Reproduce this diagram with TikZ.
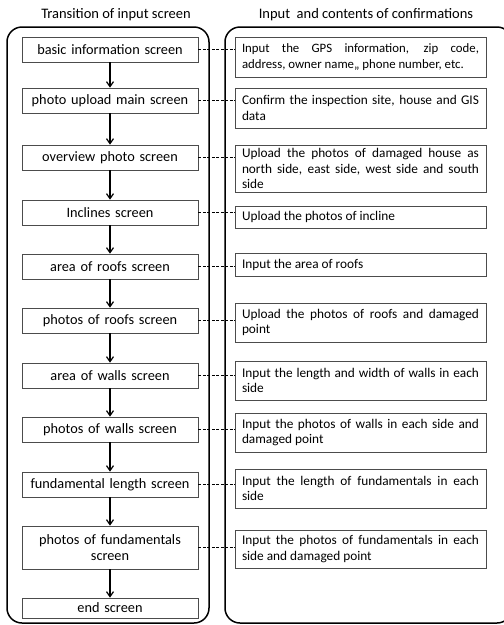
\documentclass[tikz,border=0pt]{standalone}
\usepackage{fontspec}
\setmainfont{Carlito}
\usetikzlibrary{arrows.meta}
\hyphenpenalty=10000
\exhyphenpenalty=10000
\begin{document}
\begin{tikzpicture}[x=1pt,y=-1pt,
    screen/.style={draw=black!70,line width=0.7pt,minimum width=176pt,minimum height=25pt,
      text width=170pt,align=center,inner sep=2pt,font=\fontsize{14.3}{16.5}\selectfont},
    content/.style={draw=black!70,line width=0.7pt,minimum width=251pt,minimum height=39pt,
      text width=237pt,align=justify,inner xsep=6pt,inner ysep=2pt,
      font=\fontsize{13.3}{15.7}\selectfont},
    title/.style={font=\fontsize{14.5}{16.5}\selectfont}]
      \useasboundingbox (0,0) rectangle (504,625);
      \draw[line width=1.5pt,rounded corners=15pt] (7,27) rectangle (209,623);
      \draw[line width=1.5pt,rounded corners=15pt] (225,27) rectangle (512,623);
      \draw
        (116,15) node[title] (t1){Transition of input screen}
        (366,15) node[title] (t2){Input\ \ and contents of confirmations};
      \draw
        (110,49.5) node[screen] (s1){basic information screen}
        (110,100.5) node[screen] (s2){photo upload main screen}
        (110,157.5) node[screen] (s3){overview photo screen}
        (110,212.5) node[screen] (s4){Inclines screen}
        (110,266.5) node[screen] (s5){area of roofs screen}
        (110,320.5) node[screen] (s6){photos of roofs screen}
        (110,375.5) node[screen] (s7){area of walls screen}
        (110,429.5) node[screen] (s8){photos of walls screen}
        (110,484.5) node[screen] (s9){fundamental length screen}
        (110,547.5) node[screen,minimum height=43pt] (s10){photos of fundamentals\\screen}
        (110,608) node[screen,minimum height=20pt] (s11){end screen};
      \draw
        (360.5,57) node[content,minimum height=40pt,font=\fontsize{12.8}{15.7}\selectfont] (c1){Input the GPS information, zip code,\linebreak address, owner name,, phone number, etc.}
        (360.5,108) node[content,minimum height=40pt] (c2){Confirm the inspection site, house and GIS data}
        (360.5,168.5) node[content,minimum height=47pt] (c3){Upload the photos of damaged house as north side, east side, west side and south side}
        (360.5,217) node[content,minimum height=22pt] (c4){Upload the photos of incline}
        (360.5,264.5) node[content,minimum height=23pt] (c5){Input the area of roofs}
        (360.5,322.5) node[content] (c6){Upload the photos of roofs and damaged point}
        (360.5,380.5) node[content] (c7){Input the length and width of walls in each side}
        (360.5,432.5) node[content] (c8){Input the photos of walls in each side and damaged point}
        (360.5,488.5) node[content] (c9){Input the length of fundamentals in each side}
        (360.5,549) node[content,minimum height=38pt] (c10){Input the photos of fundamentals in each side and damaged point};
      \begin{scope}[-{Straight Barb[length=5pt,width=7pt]},line width=1.2pt]
        \draw (s1) to (s2);
        \draw (s2) to (s3);
        \draw (s3) to (s4);
        \draw (s4) to (s5);
        \draw (s5) to (s6);
        \draw (s6) to (s7);
        \draw (s7) to (s8);
        \draw (s8) to (s9);
        \draw (s9) to (s10);
        \draw (s10) to (s11);
      \end{scope}
      \begin{scope}[dash pattern=on 3pt off 1.5pt,line width=0.7pt]
        \draw (s1.east) to (s1.east -| c1.west);
        \draw (s2.east) to (s2.east -| c2.west);
        \draw (s3.east) to (s3.east -| c3.west);
        \draw (s4.east) to (s4.east -| c4.west);
        \draw (s5.east) to (s5.east -| c5.west);
        \draw (s6.east) to (s6.east -| c6.west);
        \draw (s7.east) to (s7.east -| c7.west);
        \draw (s8.east) to (s8.east -| c8.west);
        \draw (s9.east) to (s9.east -| c9.west);
        \draw (s10.east) to (s10.east -| c10.west);
      \end{scope}
    \end{tikzpicture}
\end{document}
